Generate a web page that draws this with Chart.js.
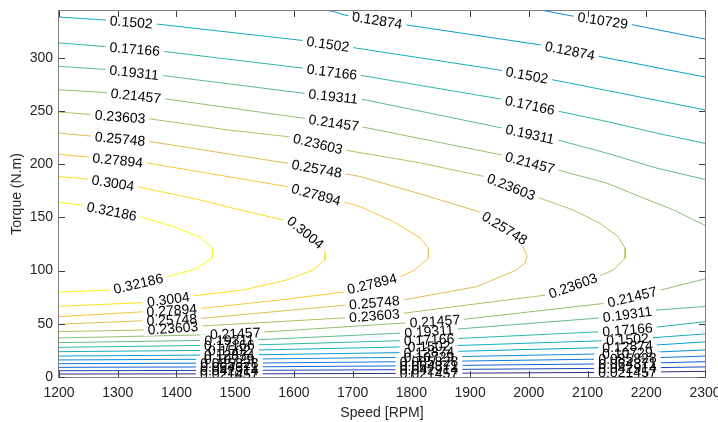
<!DOCTYPE html>
<html>
<head>
<meta charset="utf-8">
<title>Contour map</title>
<style>
  body { margin: 0; background: #fff; }
</style>
</head>
<body>
<canvas id="myChart" width="718" height="422"></canvas>
<script src="https://cdn.jsdelivr.net/npm/chart.js@4.4.0/dist/chart.umd.min.js"></script>
<script>
// contour levels (one line per level)
var levels = [0.021457, 0.042914, 0.064371, 0.085828, 0.10729, 0.12874, 0.1502,
  0.17166, 0.19311, 0.21457, 0.23603, 0.25748, 0.27894, 0.3004, 0.32186];

var xTicks = [1200, 1300, 1400, 1500, 1600, 1700, 1800, 1900, 2000, 2100, 2200, 2300];
var yTicks = [0, 50, 100, 150, 200, 250, 300];

// [speed, torque] points; null splits upper / lower branch
var path01 = [[1200, 2.8], [1551, 3.0], [1789, 3.4], [1891, 3.6], [2121, 4.3], [2220, 4.8], [2300, 5.3]];
var path02 = [[1200, 5.9], [1551, 6.3], [1789, 6.9], [1891, 7.2], [2121, 8.1], [2220, 8.8], [2300, 9.5]];
var path03 = [[1200, 9.1], [1551, 9.6], [1789, 10.5], [1891, 11.0], [2121, 12.3], [2220, 13.3], [2300, 14.4]];
var path04 = [[1200, 12.5], [1551, 13.2], [1789, 14.4], [1891, 15.0], [2121, 16.8], [2220, 18.2], [2300, 19.7]];
var path05 = [[1866, 359.3], [2033, 343.6], [2072, 339.5], [2177, 331.0], [2300, 317.6], null,
  [1200, 16.0], [1551, 17.0], [1789, 18.5], [1891, 19.3], [2121, 21.7], [2220, 23.5], [2300, 25.4]];
var path06 = [[1525, 355.5], [1667, 343.6], [1684, 340.5], [1782, 331.7], [2019, 312.2], [2121, 301.2], [2300, 281.9], null,
  [1200, 19.7], [1551, 21.0], [1789, 23.0], [1891, 24.3], [2121, 27.6], [2220, 30.2], [2300, 33.0]];
var path07 = [[1200, 338.3], [1275, 335.7], [1367, 331.7], [1615, 316.3], [1707, 309.1], [1948, 288.7], [2041, 279.3], [2300, 251.1], null,
  [1200, 23.8], [1551, 25.5], [1789, 28.3], [1891, 29.8], [2121, 34.0], [2220, 37.3], [2300, 40.5]];
var path08 = [[1200, 314.0], [1278, 310.6], [1380, 305.9], [1615, 290.3], [1718, 283.1], [1953, 261.2], [2053, 249.5], [2133, 240.1], [2218, 229.2], [2300, 219.6], null,
  [1200, 27.9], [1551, 30.4], [1789, 34.3], [1891, 36.5], [2121, 42.5], [2220, 47.0], [2300, 52.0]];
var path09 = [[1200, 292.0], [1287, 288.7], [1380, 283.1], [1615, 266.8], [1721, 260.5], [1953, 234.2], [2053, 222.2], [2133, 210.4], [2218, 196.3], [2300, 185.7], null,
  [1200, 32.3], [1551, 35.3], [1789, 41.4], [1891, 45.6], [2121, 55.5], [2220, 63.0], [2300, 66.3]];
var path10 = [[1200, 270.0], [1287, 267.1], [1384, 261.2], [1615, 243.3], [1716, 235.1], [1953, 208.8], [2053, 194.0], [2133, 182.2], [2189, 169.6], [2246, 157.1], [2300, 142.5], null,
  [1200, 36.7], [1440, 39.5], [1551, 42.3], [1789, 50.8], [1891, 54.3], [2130, 69.3], [2225, 81.8], [2300, 92.2]];
var path11 = [[1200, 249.0], [1355, 242.6], [1486, 232.3], [1593, 225.7], [1684, 213.5], [1815, 201.3], [1927, 188.1], [2019, 168.1], [2075, 157.1], [2121, 144.5], [2152, 131.9],
  [2164, 121.0], [2164, 111.6], [2144, 100.6], [2118, 94.3], [2030, 77.1], [1900, 68.0], [1786, 59.9], [1684, 55.5], [1445, 48.0], [1343, 44.2], [1200, 42.6]];
var path12 = [[1200, 229.2], [1355, 221.3], [1588, 201.0], [1713, 188.4], [1815, 172.1], [1914, 155.5], [1959, 140.1], [1988, 125.1], [1997, 113.8],
  [1994, 107.2], [1979, 100.6], [1911, 84.9], [1786, 72.4], [1690, 67.7], [1445, 55.2], [1200, 49.6]];
var path13 = [[1200, 209.4], [1352, 201.0], [1588, 179.0], [1713, 160.2], [1769, 146.1], [1815, 130.7], [1829, 121.0], [1829, 111.6],
  [1806, 100.6], [1781, 94.3], [1730, 87.4], [1690, 80.2], [1576, 72.4], [1445, 64.6], [1200, 56.7]];
var path14 = [[1200, 188.4], [1253, 185.9], [1338, 178.4], [1440, 166.5], [1496, 158.7], [1581, 147.7], [1619, 136.4], [1648, 123.2], [1654, 115.7],
  [1653, 110.0], [1633, 100.6], [1588, 91.2], [1514, 81.8], [1432, 76.5], [1343, 69.9], [1200, 66.5]];
var path15 = [[1200, 164.3], [1236, 161.8], [1341, 150.2], [1395, 141.4], [1440, 131.4], [1462, 121.0], [1461, 111.6], [1433, 101.6], [1383, 94.0], [1287, 81.8], [1200, 79.7]];

var paths = [path01, path02, path03, path04, path05, path06, path07, path08, path09, path10, path11, path12, path13, path14, path15];

// inline labels: [level index, speed, branch 'u' = upper / 'l' = lower]
var labelSpots = [
  [6, 1323, 'u'], [7, 1329, 'u'], [8, 1328, 'u'], [9, 1331, 'u'], [10, 1304, 'u'], [11, 1304, 'u'], [12, 1300, 'u'], [13, 1292, 'u'], [14, 1290, 'u'],
  [5, 1742, 'u'], [6, 1658, 'u'], [7, 1665, 'u'], [8, 1667, 'u'], [9, 1668, 'u'], [10, 1641, 'u'], [11, 1639, 'u'], [12, 1638, 'u'], [13, 1620, 'u'],
  [4, 2126, 'u'], [5, 2070, 'u'], [6, 1997, 'u'], [7, 2002, 'u'], [8, 2002, 'u'], [9, 2002, 'u'], [10, 1970, 'u'], [11, 1959, 'u'],
  [14, 1335, 'l'], [13, 1386, 'l'], [12, 1392, 'l'], [11, 1392, 'l'], [10, 1394, 'l'],
  [12, 1733, 'l'], [11, 1737, 'l'], [10, 1737, 'l'], [10, 2075, 'l'],
  [9, 1500, 'l'], [8, 1490, 'l'], [7, 1490, 'l'], [6, 1490, 'l'], [5, 1490, 'l'], [4, 1490, 'l'], [3, 1490, 'l'], [2, 1490, 'l'], [1, 1490, 'l'], [0, 1490, 'l'],
  [9, 1840, 'l'], [8, 1830, 'l'], [7, 1830, 'l'], [6, 1830, 'l'], [5, 1830, 'l'], [4, 1830, 'l'], [3, 1830, 'l'], [2, 1830, 'l'], [1, 1830, 'l'], [0, 1830, 'l'],
  [9, 2176, 'l'], [8, 2168, 'l'], [7, 2168, 'l'], [6, 2168, 'l'], [5, 2168, 'l'], [4, 2168, 'l'], [3, 2168, 'l'], [2, 2168, 'l'], [1, 2168, 'l'], [0, 2168, 'l']
];

// parula-like colormap stops
var parula = ['#352a87', '#0f5cdd', '#1481d6', '#06a4ca', '#2eb7a4', '#87bf77', '#d1bb59', '#fec832', '#f9fb0e'];
function hexRgb(h) { return [parseInt(h.substr(1, 2), 16), parseInt(h.substr(3, 2), 16), parseInt(h.substr(5, 2), 16)]; }
function cmap(t) {
  var s = t * (parula.length - 1), i = Math.min(Math.floor(s), parula.length - 2), f = s - i;
  var a = hexRgb(parula[i]), b = hexRgb(parula[i + 1]);
  return 'rgb(' + [0, 1, 2].map(function (k) { return Math.round(a[k] + (b[k] - a[k]) * f); }).join(',') + ')';
}

var FONT = '"Liberation Sans", Arial, sans-serif';
var axisColor = '#262626';

function findSpot(chart, path, sx, branch) {
  var xs = chart.scales.x, ys = chart.scales.y;
  var pts = path.map(function (p) { return p ? [xs.getPixelForValue(p[0]), ys.getPixelForValue(p[1])] : null; });
  var px = xs.getPixelForValue(sx);
  var order = [];
  for (var i = 0; i < pts.length - 1; i++) order.push(i);
  if (branch === 'l') order.reverse();
  for (var k = 0; k < order.length; k++) {
    var a = pts[order[k]], b = pts[order[k] + 1];
    if (!a || !b || a[0] === b[0]) continue;
    if ((px - a[0]) * (px - b[0]) <= 0) {
      var t = (px - a[0]) / (b[0] - a[0]);
      var ang = Math.atan2(b[1] - a[1], b[0] - a[0]);
      if (ang > Math.PI / 2) ang -= Math.PI;
      if (ang < -Math.PI / 2) ang += Math.PI;
      return { x: px, y: a[1] + t * (b[1] - a[1]), ang: ang };
    }
  }
  return null;
}

var contourLabels = {
  id: 'contourLabels',
  afterDatasetsDraw: function (chart) {
    var ctx = chart.ctx, a = chart.chartArea;
    var spots = [];
    labelSpots.forEach(function (s) {
      var p = findSpot(chart, paths[s[0]], s[1], s[2]);
      if (p) { p.text = String(levels[s[0]]); spots.push(p); }
    });
    ctx.save();
    ctx.beginPath();
    ctx.rect(a.left, a.top, a.right - a.left, a.bottom - a.top);
    ctx.clip();
    ctx.font = '14px ' + FONT;
    spots.forEach(function (p) {
      var w = ctx.measureText(p.text).width + 8;
      ctx.save();
      ctx.translate(p.x, p.y);
      ctx.rotate(p.ang);
      ctx.fillStyle = '#fff';
      ctx.fillRect(-w / 2, -6, w, 12);
      ctx.restore();
    });
    ctx.fillStyle = '#000';
    ctx.textAlign = 'center';
    ctx.textBaseline = 'middle';
    spots.forEach(function (p) {
      ctx.save();
      ctx.translate(p.x, p.y);
      ctx.rotate(p.ang);
      ctx.fillText(p.text, 0, 1);
      ctx.restore();
    });
    ctx.restore();
  }
};

// box round the axes with inward ticks, matlab style
var axesBox = {
  id: 'axesBox',
  afterDraw: function (chart) {
    var ctx = chart.ctx, a = chart.chartArea, xs = chart.scales.x, ys = chart.scales.y;
    ctx.save();
    ctx.strokeStyle = '#7f7f7f';
    ctx.lineWidth = 1;
    ctx.strokeRect(Math.round(a.left) - 0.5, Math.round(a.top) - 0.5, Math.round(a.right - a.left) + 1, Math.round(a.bottom - a.top) + 1);
    ctx.strokeStyle = '#404040';
    ctx.beginPath();
    xTicks.forEach(function (v) {
      var x = Math.round(xs.getPixelForValue(v)) + 0.5;
      ctx.moveTo(x, a.bottom); ctx.lineTo(x, a.bottom - 6);
      ctx.moveTo(x, a.top); ctx.lineTo(x, a.top + 6);
    });
    yTicks.forEach(function (v) {
      var y = Math.round(ys.getPixelForValue(v)) + 0.5;
      ctx.moveTo(a.left, y); ctx.lineTo(a.left + 6, y);
      ctx.moveTo(a.right, y); ctx.lineTo(a.right - 6, y);
    });
    ctx.stroke();
    ctx.restore();
  }
};

var datasets = paths.map(function (path, i) {
  return {
    label: String(levels[i]),
    data: path.map(function (p) { return p ? { x: p[0], y: p[1] } : { x: null, y: null }; }),
    showLine: true,
    borderColor: cmap(i / (levels.length - 1)),
    borderWidth: 1,
    pointRadius: 0,
    pointHoverRadius: 0,
    tension: 0,
    spanGaps: false,
    fill: false
  };
});

var ctx = document.getElementById('myChart').getContext('2d');
var chart = new Chart(ctx, {
  type: 'scatter',
  data: { datasets: datasets },
  options: {
    responsive: false,
    animation: false,
    devicePixelRatio: 1,
    layout: { padding: { left: 0, right: 13, top: 11, bottom: 0 } },
    plugins: { legend: { display: false }, tooltip: { enabled: false } },
    scales: {
      x: {
        type: 'linear',
        min: 1200,
        max: 2300,
        grid: { display: false, drawTicks: false },
        border: { display: false },
        afterBuildTicks: function (s) { s.ticks = xTicks.map(function (v) { return { value: v }; }); },
        afterFit: function (s) { s.height = 45; s.paddingLeft = 0; s.paddingRight = 0; },
        ticks: {
          color: axisColor, font: { family: FONT, size: 14 }, padding: 8, maxRotation: 0, autoSkip: false,
          callback: function (v) { return String(v); }
        },
        title: { display: true, text: 'Speed [RPM]', color: axisColor, font: { family: FONT, size: 14 }, padding: { top: 5, bottom: 0 } }
      },
      y: {
        type: 'linear',
        min: 0,
        max: 344,
        grid: { display: false, drawTicks: false },
        border: { display: false },
        afterBuildTicks: function (s) { s.ticks = yTicks.map(function (v) { return { value: v }; }); },
        afterFit: function (s) { s.width = 59; s.paddingTop = 0; s.paddingBottom = 0; },
        ticks: {
          color: axisColor, font: { family: FONT, size: 14 }, padding: 6, autoSkip: false,
          callback: function (v) { return String(v); }
        },
        title: { display: true, text: 'Torque (N.m)', color: axisColor, font: { family: FONT, size: 14 }, padding: { top: 9, bottom: 0 } }
      }
    }
  },
  plugins: [contourLabels, axesBox]
});
</script>
</body>
</html>
